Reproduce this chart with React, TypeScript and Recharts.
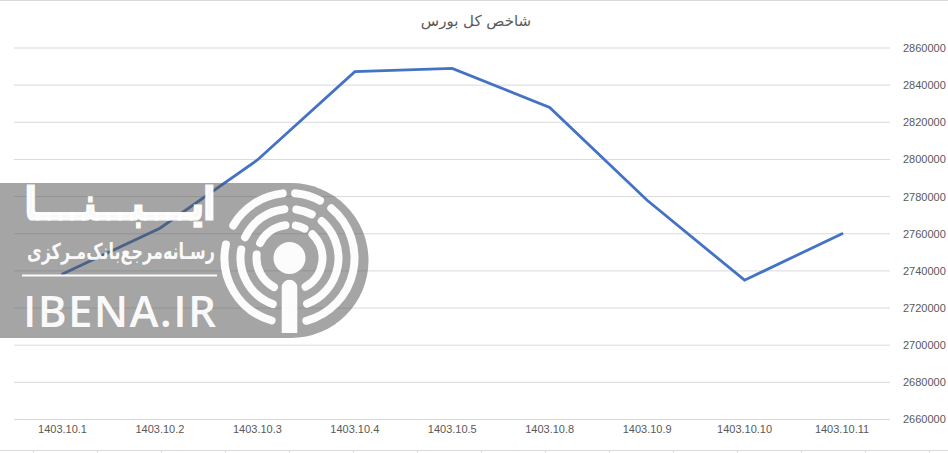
import React from "react";
import { LineChart, Line, XAxis, YAxis, CartesianGrid } from "recharts";

const categories = ["1403.10.1","1403.10.2","1403.10.3","1403.10.4","1403.10.5","1403.10.8","1403.10.9","1403.10.10","1403.10.11"];
const indexValues = [2738300,2763000,2799700,2847300,2849000,2828000,2778000,2735000,2760000];
const yTicks = [2660000,2680000,2700000,2720000,2740000,2760000,2780000,2800000,2820000,2840000,2860000];
const chartTitle = "شاخص کل بورس";
const data = categories.map((name, i) => ({ name, value: indexValues[i] }));

const bottomMarks = Array.from({ length: 15 }, (_, i) => 33 + 64 * i);
// ring radius, start angle, end angle of the logo's arc segments
const logoArcs: [number, number, number][] = [
  [65,106,192],[65,210,264],[65,275,298],[65,310,435],
  [49,110,190],[49,205,264],[49,278,297],[49,311,429],
  [33,118,186],[33,207,263],[33,281,297],[33,314,421],
];
const cx = 289.5, cy = 258;
const arcPath = (r: number, a: number, b: number) => {
  const p = (d: number) => [cx + r * Math.cos(d * Math.PI / 180), cy + r * Math.sin(d * Math.PI / 180)];
  const [x1, y1] = p(a), [x2, y2] = p(b);
  return `M${x1} ${y1}A${r} ${r} 0 ${b - a > 180 ? 1 : 0} 1 ${x2} ${y2}`;
};

export default function App() {
  return (
    <div style={{ position: "absolute", left: 0, top: 0, width: 948, height: 453, background: "#fff", overflow: "hidden" }}>
      <LineChart width={948} height={453} data={data} margin={{ top: 48, right: 0, bottom: 0, left: 14 }}>
        <CartesianGrid horizontal vertical={false} stroke="#d9d9d9" strokeWidth={1} />
        <XAxis dataKey="name" height={33.5} axisLine={false} tickLine={false} interval={0} tickMargin={0}
          padding={{ left: 48.5, right: 48 }} tick={{ fill: "#595959", fontSize: 11, fontFamily: "Liberation Sans" }} />
        <YAxis orientation="right" width={58} domain={[2660000, 2860000]} ticks={yTicks} axisLine={false} tickLine={false}
          tickMargin={7} interval={0} tick={{ fill: "#595959", fontSize: 11, fontFamily: "Liberation Sans" }} />
        <Line type="linear" dataKey="value" stroke="#4472C4" strokeWidth={2.8} dot={false} isAnimationActive={false} strokeLinecap="round" />
      </LineChart>
      <svg width={948} height={453} style={{ position: "absolute", left: 0, top: 0 }}>
        <text x={476} y={26} textAnchor="middle" fontSize={15} fill="#595959" fontFamily="DejaVu Sans" direction="rtl">{chartTitle}</text>
        <line x1={0} x2={948} y1={0.5} y2={0.5} stroke="#d9d9d9" />
        <line x1={0} x2={948} y1={450.5} y2={450.5} stroke="#d9d9d9" />
        {bottomMarks.map((x) => <line key={x} x1={x + 0.5} x2={x + 0.5} y1={451} y2={453} stroke="#d9d9d9" />)}
        <path d="M0 183H291A77.5 77.5 0 0 1 291 338H0Z" fill="#525252" fillOpacity={0.52} />
        <g fill="#fff" fillOpacity={0.96} stroke="none">
          <text x={120} y={219} textAnchor="middle" fontSize={44} fontWeight={700} fontFamily="DejaVu Sans" direction="rtl" textLength={190} lengthAdjust="spacingAndGlyphs" stroke="#fff" strokeWidth={3} strokeOpacity={0.96}>ایــــبـــنــــا</text>
          <text x={121} y={259} textAnchor="middle" fontSize={22} fontWeight={700} fontFamily="DejaVu Sans" direction="rtl" textLength={188} lengthAdjust="spacingAndGlyphs">رسـانه‌مرجع‌بانک‌مـرکزی</text>
          <text x={23} y={327} fontSize={44} fontFamily="Open Sans" fontWeight={600} textLength={193} lengthAdjust="spacing">IBENA.IR</text>
          <rect x={22} y={274.5} width={195} height={2} />
          <circle cx={cx} cy={cy} r={16} />
          <path d="M281.7 333V287.5A7.8 7.8 0 0 1 297.3 287.5V333Z" />
        </g>
        <g fill="none" stroke="#fff" strokeOpacity={0.96} strokeWidth={8} strokeLinecap="round">
          {logoArcs.map(([r, a, b]) => <path key={`${r}-${a}`} d={arcPath(r, a, b)} />)}
        </g>
      </svg>
    </div>
  );
}
